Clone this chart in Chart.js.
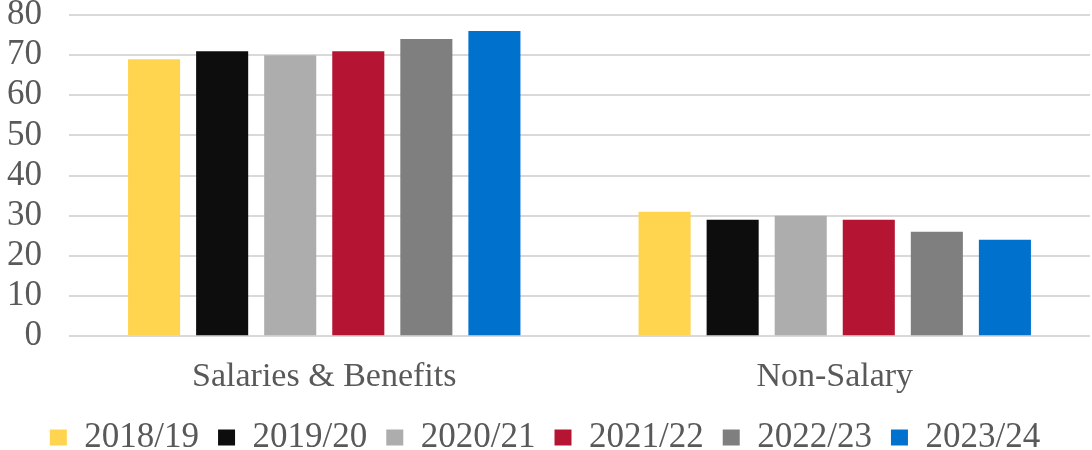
<!DOCTYPE html>
<html>
<head>
<meta charset="utf-8">
<script src="https://cdn.jsdelivr.net/npm/chart.js@4"></script>
<style>
  html, body { margin: 0; padding: 0; background: #fff; }
  #wrap { width: 1092px; height: 450px; }
</style>
</head>
<body>
<div id="wrap"><canvas id="myChart" width="1092" height="450"></canvas></div>
<script>
var categories = ['Salaries & Benefits', 'Non-Salary'];
var years = ['2018/19', '2019/20', '2020/21', '2021/22', '2022/23', '2023/24'];
var salaries = [69, 71, 70, 71, 74, 76];
var nonSalary = [31, 29, 30, 29, 26, 24];
var yTicks = [0, 10, 20, 30, 40, 50, 60, 70, 80];

var barColors = ['#FFD44F', '#0D0D0D', '#ADADAD', '#B51433', '#7F7F7F', '#0072CE'];
var textColor = '#595959';
var gridColor = '#D9D9D9';

var datasets = years.map(function(y, i) {
  return {
    label: y,
    data: [salaries[i], nonSalary[i]],
    backgroundColor: barColors[i],
    categoryPercentage: 0.8,
    barPercentage: 0.765
  };
});

var config = {
  type: 'bar',
  data: { labels: categories, datasets: datasets },
  options: {
    animation: false,
    responsive: false,
    layout: { padding: { top: 0, right: 2, left: 0, bottom: -15 } },
    plugins: {
      tooltip: { enabled: false },
      legend: {
        position: 'bottom',
        labels: {
          color: textColor,
          font: { family: 'Liberation Serif', size: 35 },
          boxWidth: 17,
          boxHeight: 16,
          padding: 19
        }
      }
    },
    scales: {
      x: {
        grid: { display: false },
        border: { display: false },
        afterFit: function(s) { s.height = s.height - 8; },
        ticks: {
          color: textColor,
          font: { family: 'Liberation Serif', size: 34 },
          padding: 12
        }
      },
      y: {
        min: 0,
        max: 80,
        afterBuildTicks: function(s) { s.ticks = yTicks.map(function(v) { return { value: v }; }); },
        afterFit: function(s) {
          s.width = 69;
          s.paddingTop = 15;
          s.paddingBottom = 0;
        },
        grid: { color: gridColor, lineWidth: 2, drawTicks: false },
        border: { display: false },
        ticks: {
          autoSkip: false,
          color: textColor,
          font: { family: 'Liberation Serif', size: 35 },
          padding: 27
        }
      }
    }
  }
};

window.onload = function() {
  var ctx = document.getElementById('myChart').getContext('2d');
  window.myBar = new Chart(ctx, config);
};
</script>
</body>
</html>
